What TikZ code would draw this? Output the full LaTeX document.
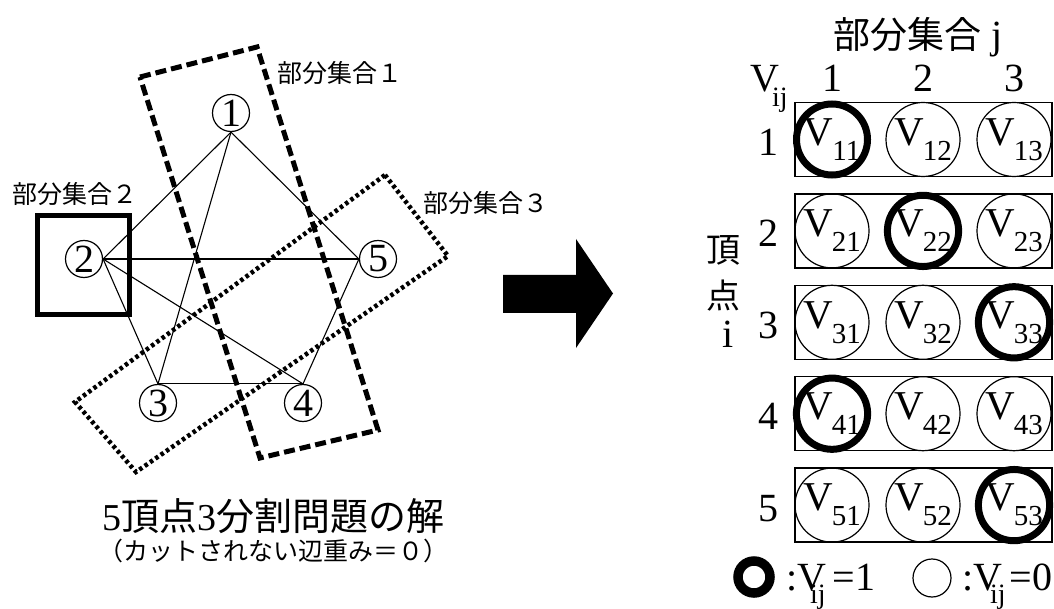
\documentclass[tikz,border=0pt]{standalone}
\usepackage{fontspec}
\setmainfont{Liberation Serif}
\newfontfamily\jp{Noto Sans CJK JP}
\newcommand\fs[1]{\fontsize{#1}{#1}\selectfont}
\newcommand\vlab[1]{\fs{41}V\kern-1pt\raisebox{-15pt}{\fs{29}#1}}
\begin{document}
\begin{tikzpicture}[x=1pt,y=-1pt,
 gnode/.style={circle,draw,line width=1.2pt,minimum size=37pt,inner sep=0pt,font=\fs{40}},
 edge/.style={line width=1.1pt},
 subA/.style={line width=5pt,dash pattern=on 11pt off 5pt},
 subB/.style={line width=5pt},
 subC/.style={line width=4.5pt,dash pattern=on 3.5pt off 3pt},
 lab/.style={font=\jp\fs{25},inner sep=0pt,anchor=west},
 rowbox/.style={draw,line width=1.3pt,minimum width=257pt,minimum height=74pt,inner sep=0pt},
 vc/.style={circle,draw,line width=1.2pt,minimum size=74pt,inner sep=0pt},
 vcsel/.style={circle,draw,line width=7pt,minimum size=71pt,inner sep=0pt},
 num/.style={font=\fs{40},inner sep=0pt,anchor=base},
]
\useasboundingbox (0,0) rectangle (1054,609);
% graph nodes
\node[gnode] (n1) at (231,113) {1};
\node[gnode] (n2) at (84,259) {2};
\node[gnode] (n3) at (158,403) {3};
\node[gnode] (n4) at (303,403) {4};
\node[gnode] (n5) at (378,259) {5};
% edges
\draw[edge] (n1.south) -- (n2.east);
\draw[edge] (n1.south) -- (n3.north);
\draw[edge] (n1.south) -- (n5.west);
\draw[edge] (n2.east) -- (n5.west);
\draw[edge] (n2.east) -- (n3.north);
\draw[edge] (n2.east) -- (n4.north);
\draw[edge] (n3.north) -- (n4.north);
\draw[edge] (n4.north) -- (n5.west);
% subsets
\draw[subA] (140,77) -- (257,47) -- (378,430) -- (260,458) -- cycle;
\draw[subB] (37.5,215.5) rectangle (129.5,314.5);
\draw[subC] (385,175) -- (448,256) -- (136,472) -- (75,402) -- cycle;
\node[lab] (s1) at (277,73) {部分集合１};
\node[lab] (s2) at (12,194) {部分集合２};
\node[lab] (s3) at (423,203) {部分集合３};
% bottom caption
\node[anchor=west,inner sep=0pt,font=\jp\fs{38}] (b1) at (102,516) {{\rmfamily 5}頂点{\rmfamily 3}分割問題の解};
\node[anchor=west,inner sep=0pt,font=\jp\fs{25}] (b2) at (98,551) {（カットされない辺重み＝０）};
% big arrow
\fill (503,275) -- (576,275) -- (576,239) -- (613,293.5) -- (576,348) -- (576,313) -- (503,313) -- cycle;
% right table
\node[anchor=base west,inner sep=0pt] (title) at (833,49) {{\jp\fs{37}部分集合}\fs{40} j};
\node[anchor=base west,inner sep=0pt,font=\fs{40}] (vij) at (750,92) {V\kern-7pt\raisebox{-15pt}{\fs{28}ij}};
\node[num] (c1) at (832,92) {1};
\node[num] (c2) at (923,92) {2};
\node[num] (c3) at (1014,92) {3};
\node[font=\jp\fs{34},inner sep=0pt] (k1) at (723,250) {頂};
\node[font=\jp\fs{34},inner sep=0pt] (k2) at (723,296) {点};
\node[num] (k3) at (728,348) {i};
\foreach \i in {1,...,5}{
  \node[rowbox] (row\i) at (923.5,{139.5+91.4*(\i-1)}) {};
  \node[num] (rl\i) at (768,{155.5+91.4*(\i-1)}) {\i};
}
\foreach \i/\s in {1/1,2/2,3/3,4/1,5/3}{
  \foreach \j/\x in {1/832,2/923,3/1014}{
    \ifnum\j=\s
      \node[vcsel] (v\i\j) at (\x,{139.5+91.4*(\i-1)}) {\vlab{\i\j}};
    \else
      \node[vc] (v\i\j) at (\x,{139.5+91.4*(\i-1)}) {\vlab{\i\j}};
    \fi
  }
}
% legend
\node[circle,draw,line width=9.5pt,minimum size=32pt,inner sep=0pt] (legon) at (754,577) {};
\node[anchor=base west,inner sep=0pt,font=\fs{40}] (legt1) at (786,590) {:V\kern-16pt\raisebox{-13pt}{\fs{28}ij}\kern7pt=1};
\node[circle,draw,line width=1.2pt,minimum size=38pt,inner sep=0pt] (legoff) at (932,578) {};
\node[anchor=base west,inner sep=0pt,font=\fs{40}] (legt0) at (962,590) {:V\kern-12pt\raisebox{-13pt}{\fs{28}ij}\kern4pt=0};
\end{tikzpicture}
\end{document}
